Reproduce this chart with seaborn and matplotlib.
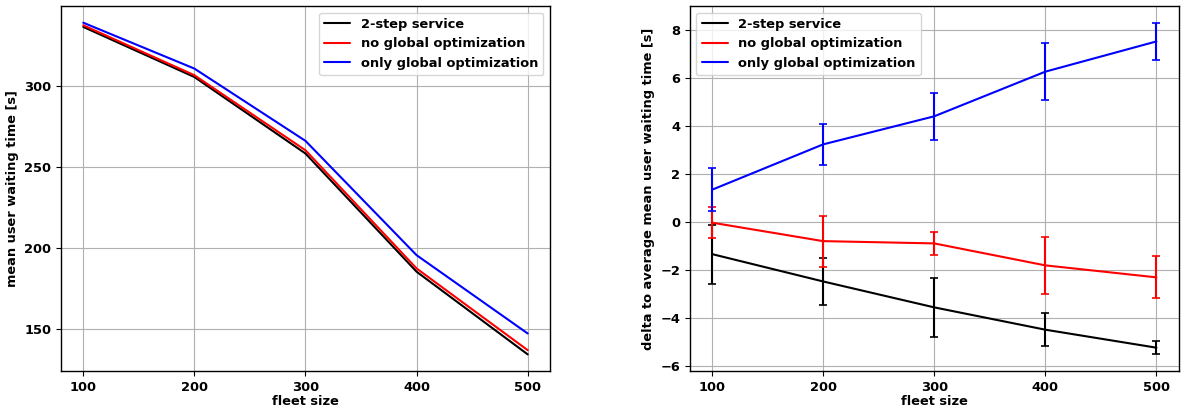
import numpy as np
import pandas as pd
import matplotlib
matplotlib.use("Agg")
import matplotlib.pyplot as plt
import seaborn as sns

# -----------------------------
# Data
# -----------------------------
fleet_size = [100, 200, 300, 400, 500]
methods = ["2-step service", "no global optimization", "only global optimization"]
colors = ["black", "red", "blue"]

# left panel: mean user waiting time [s]
wait_two_step = [336.4, 305.5, 258.3, 185.4, 134.4]
wait_no_global = [337.4, 306.6, 260.3, 187.4, 137.0]
wait_only_global = [339.0, 310.7, 266.1, 195.6, 147.3]

# right panel: delta to average mean user waiting time [s]
delta_two_step = [-1.32, -2.46, -3.54, -4.47, -5.22]
delta_no_global = [-0.01, -0.78, -0.875, -1.79, -2.29]
delta_only_global = [1.36, 3.25, 4.42, 6.28, 7.54]

err_two_step = [1.23, 0.99, 1.24, 0.69, 0.28]
err_no_global = [0.64, 1.06, 0.47, 1.19, 0.87]
err_only_global = [0.90, 0.86, 0.99, 1.19, 0.78]

# -----------------------------
# Long-form tables
# -----------------------------
def long_table(series, errs=None):
    rows = []
    for i, (name, vals) in enumerate(zip(methods, series)):
        for j, (x, v) in enumerate(zip(fleet_size, vals)):
            rows.append({"fleet size": x, "value": v, "method": name,
                         "err": errs[i][j] if errs else 0.0})
    return pd.DataFrame(rows)

df_wait = long_table([wait_two_step, wait_no_global, wait_only_global])
df_delta = long_table([delta_two_step, delta_no_global, delta_only_global],
                      [err_two_step, err_no_global, err_only_global])

# -----------------------------
# Style
# -----------------------------
sns.set_style("whitegrid", {"axes.edgecolor": "black", "grid.color": "#b0b0b0",
                            "xtick.bottom": True, "ytick.left": True,
                            "text.color": "black", "axes.labelcolor": "black",
                            "xtick.color": "black", "ytick.color": "black"})
plt.rcParams["font.family"] = ["DejaVu Sans"]
plt.rcParams["font.weight"] = "bold"
plt.rcParams["axes.labelweight"] = "bold"
FS = 9.4
plt.rcParams["font.size"] = FS
plt.rcParams["legend.fontsize"] = FS
plt.rcParams["axes.linewidth"] = 1.0
palette = dict(zip(methods, colors))

fig, axes = plt.subplots(1, 2, figsize=(11.81, 4.08), dpi=100)

# Left: absolute waiting time
ax = axes[0]
sns.lineplot(data=df_wait, x="fleet size", y="value", hue="method",
             palette=palette, ax=ax, linewidth=1.5)
ax.set_ylabel("mean user waiting time [s]")
ax.set_xlabel("fleet size", labelpad=1)
ax.set_xticks(fleet_size)
ax.set_yticks([150, 200, 250, 300])
ax.legend(loc="upper right", framealpha=0.8, handlelength=2.0)

# Right: delta with error bars
ax = axes[1]
sns.lineplot(data=df_delta, x="fleet size", y="value", hue="method",
             palette=palette, ax=ax, linewidth=1.5)
for name in methods:
    sub = df_delta[df_delta["method"] == name]
    ax.errorbar(sub["fleet size"], sub["value"], yerr=sub["err"], fmt="none",
                ecolor=palette[name], capsize=3, elinewidth=1.5, capthick=1.2)
ax.set_ylabel("delta to average mean user waiting time [s]")
ax.set_xlabel("fleet size", labelpad=1)
ax.set_xticks(fleet_size)
ax.set_yticks([-6, -4, -2, 0, 2, 4, 6, 8])
ax.legend(loc="upper left", framealpha=0.8, handlelength=2.0)

for a in axes:
    a.grid(True, color="#b0b0b0", linewidth=0.8)
    for s in a.spines.values():
        s.set_color("black")
    a.tick_params(axis="both", labelsize=FS, length=3.5, color="black",
                  labelcolor="black")

fig.subplots_adjust(left=0.0517, right=0.998, top=0.985, bottom=0.0907, wspace=0.286)
fig.savefig("out.png", dpi=100)
